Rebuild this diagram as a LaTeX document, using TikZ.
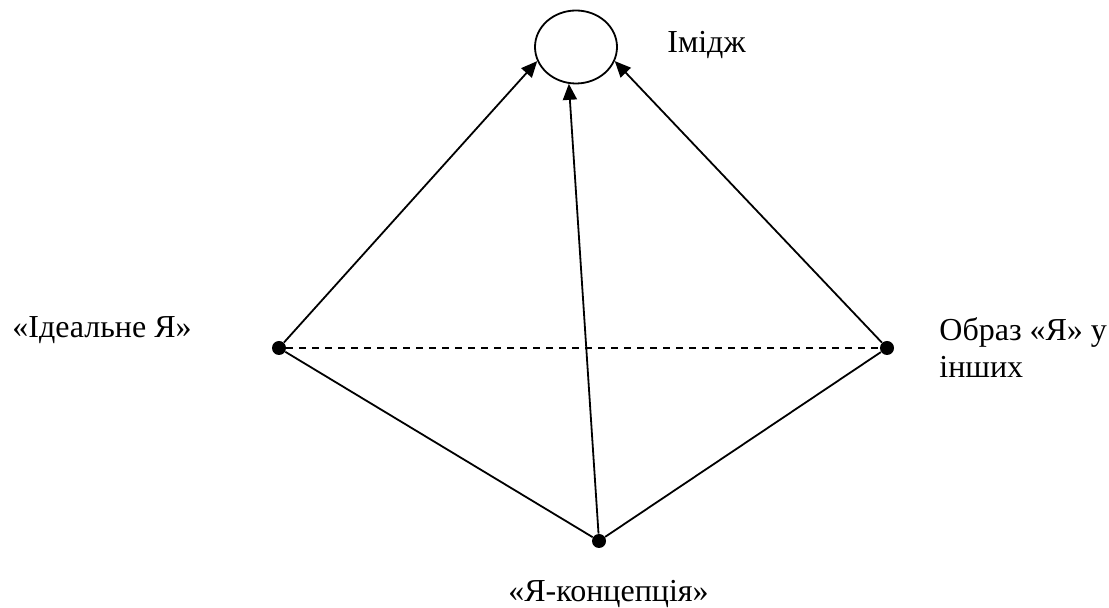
\documentclass[tikz,border=0pt]{standalone}
\usepackage{fontspec}
\setmainfont{Liberation Serif}
\newfontfamily\uaserif{Liberation Serif}
\usetikzlibrary{arrows.meta,shapes.geometric}

\begin{document}
\begin{tikzpicture}[
  x=0.5pt, y=-0.5pt,
  font=\uaserif\fontsize{16}{18.5}\selectfont,
  >={Triangle[length=8pt, width=7pt]},
  dot/.style={circle, fill=black, inner sep=0pt, minimum size=7pt},
  lbl/.style={inner sep=0pt, anchor=base west},
  ar/.style={->, line width=0.9pt},
  ln/.style={line width=0.9pt},
]
\useasboundingbox (0,0) rectangle (1109,608);
\node[ellipse, draw, line width=0.9pt, minimum width=41pt, minimum height=36.5pt, inner sep=0pt] (img) at (576,47) {};
\node[lbl] (lImg) at (667,53) {Імідж};
\node[dot] (pI) at (279,348) {};
\node[dot] (pO) at (887,348) {};
\node[dot] (pC) at (599,541) {};
\node[lbl] (lI) at (12,338) {«Ідеальне Я»};
\node[inner sep=0pt, anchor=north west, align=left] (lO) at (939,317) {Образ «Я» у\\інших};
\node[lbl] (lC) at (508,602) {«Я-концепція»};
\draw[ar] (pI) -- (img.200);
\draw[ar] (pO) -- (img.340);
\draw[ar] (pC) -- (img.259);
\draw[ln, dash pattern=on 3.5pt off 3pt] (pI) -- (pO);
\draw[ln] (pI) -- (pC);
\draw[ln] (pO) -- (pC);
\end{tikzpicture}
\end{document}
